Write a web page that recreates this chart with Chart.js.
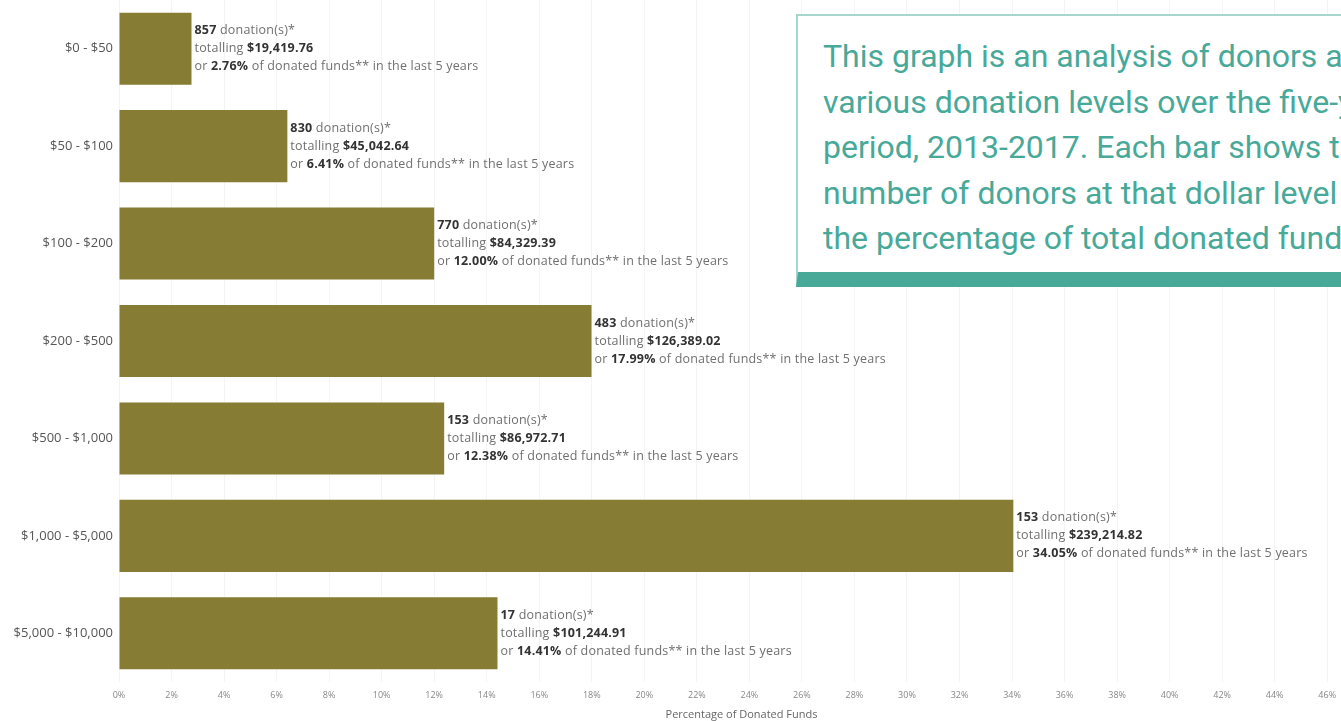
<!DOCTYPE html>
<html>
<head>
<meta charset="utf-8">
<script src="https://cdn.jsdelivr.net/npm/chart.js@4"></script>
<style>
html,body{margin:0;padding:0;background:#fff;overflow:hidden;width:1341px;height:721px;}
#wrap{position:absolute;left:0;top:0;width:1366px;height:721px;}
#note{position:absolute;left:796px;top:14px;width:700px;height:273px;background:#fff;
  border-top:2px solid #a6d6cc;border-left:2px solid #a6d6cc;border-bottom:15px solid #48a999;
  font-family:Roboto,sans-serif;font-size:32px;line-height:45.5px;color:#48a999;
  padding:18px 0 0 25px;box-sizing:border-box;white-space:nowrap;}
</style>
</head>
<body>
<div id="wrap"><canvas id="c" width="1366" height="721"></canvas></div>
<div id="note">This graph is an analysis of donors at<br>various donation levels over the five-year<br>period, 2013-2017. Each bar shows the<br>number of donors at that dollar level and<br>the percentage of total donated funds.</div>
<script>
const categories = ['$0 - $50', '$50 - $100', '$100 - $200', '$200 - $500', '$500 - $1,000', '$1,000 - $5,000', '$5,000 - $10,000'];
const percentages = [2.76, 6.41, 12.00, 17.99, 12.38, 34.05, 14.41];
const donationCounts = [857, 830, 770, 483, 153, 153, 17];
const totals = ['$19,419.76', '$45,042.64', '$84,329.39', '$126,389.02', '$86,972.71', '$239,214.82', '$101,244.91'];
const xStep = 2;
const xTitle = 'Percentage of Donated Funds';

const labelFont = 'Open Sans, sans-serif';
const barLabels = {
  id: 'barLabels',
  afterDatasetsDraw(chart) {
    const ctx = chart.ctx;
    const meta = chart.getDatasetMeta(0);
    ctx.save();
    ctx.textBaseline = 'middle';
    ctx.textAlign = 'left';
    try { ctx.letterSpacing = '0.2px'; } catch (e) {}
    meta.data.forEach((bar, i) => {
      const x0 = bar.x + 3;
      const lines = [
        [[String(donationCounts[i]), true], [' donation(s)*', false]],
        [['totalling ', false], [totals[i], true]],
        [['or ', false], [percentages[i].toFixed(2) + '%', true], [' of donated funds** in the last 5 years', false]]
      ];
      lines.forEach((parts, li) => {
        let x = x0;
        const y = bar.y + (li - 1) * 18;
        parts.forEach(([t, b]) => {
          ctx.font = (b ? 'bold ' : '') + '12.5px ' + labelFont;
          ctx.fillStyle = b ? '#333333' : '#707070';
          ctx.fillText(t, x, y);
          x += ctx.measureText(t).width;
        });
      });
    });
    ctx.restore();
  }
};

new Chart(document.getElementById('c'), {
  type: 'bar',
  data: {
    labels: categories,
    datasets: [{
      data: percentages,
      backgroundColor: '#867c33',
      barPercentage: 0.74,
      categoryPercentage: 1
    }]
  },
  options: {
    indexAxis: 'y',
    responsive: false,
    animation: false,
    layout: { padding: { top: 0, right: 2, left: 0, bottom: 0 } },
    plugins: { legend: { display: false }, tooltip: { enabled: false } },
    scales: {
      x: {
        min: 0, max: 47.4,
        grid: { color: '#f4f4f4', drawTicks: false },
        border: { display: false },
        ticks: {
          stepSize: xStep, includeBounds: false, padding: 8,
          color: '#888', font: { size: 9, family: labelFont },
          callback: v => v + '%'
        },
        title: { display: true, text: xTitle, color: '#666', font: { size: 11, family: labelFont }, padding: { top: 0, bottom: 0 } },
        afterFit(s) { s.height = 39; }
      },
      y: {
        grid: { display: false, drawTicks: false },
        border: { display: false },
        ticks: { padding: 6, color: '#555', font: { size: 13, family: labelFont } },
        afterFit(s) { s.width = 119; s.paddingTop = 0; s.paddingBottom = 0; }
      }
    }
  },
  plugins: [barLabels]
});
</script>
</body>
</html>
